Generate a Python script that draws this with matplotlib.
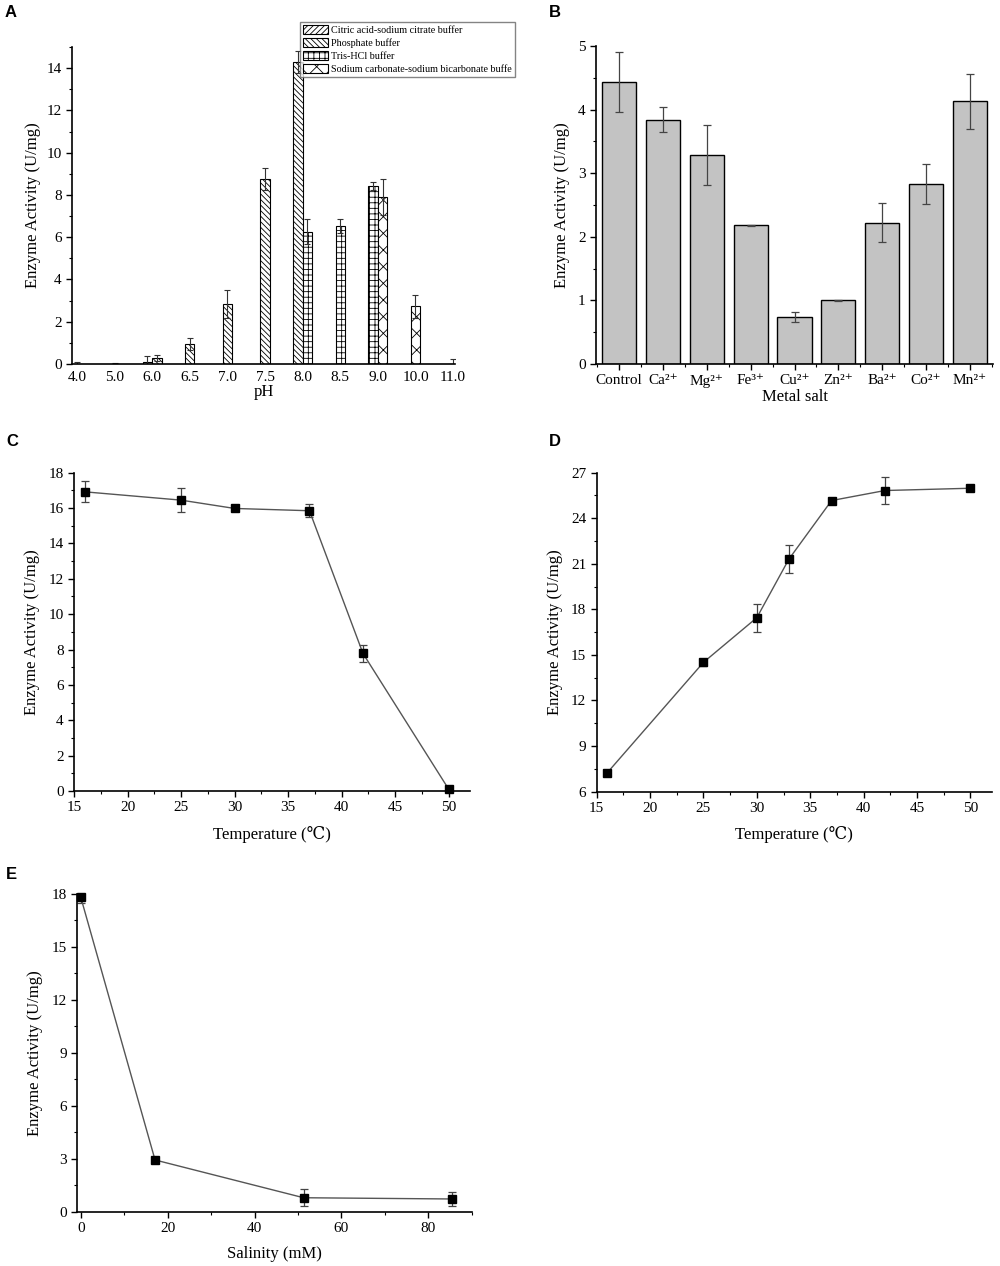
import numpy as np
import matplotlib
matplotlib.use("Agg")
import matplotlib.pyplot as plt
from matplotlib.ticker import MultipleLocator, FixedLocator
from matplotlib.patches import Patch

plt.rcParams['font.family'] = ['Liberation Serif', 'DejaVu Serif']
plt.rcParams['hatch.linewidth'] = 0.6

# ---- Panel A: pH ----
ph_labels = ["4.0", "5.0", "6.0", "6.5", "7.0", "7.5", "8.0", "8.5", "9.0", "10.0", "11.0"]
buffer_names = ["Citric acid-sodium citrate buffer", "Phosphate buffer",
                "Tris-HCl buffer", "Sodium carbonate-sodium bicarbonate buffe"]
buffer_hatch = ["//////", "\\\\\\\\\\\\", "+++", "xx"]
citric_ph = ["4.0", "5.0", "6.0"]
citric_val = [0.02, 0.01, 0.10]
citric_err = [0.06, 0.04, 0.26]
phosphate_ph = ["6.0", "6.5", "7.0", "7.5", "8.0"]
phosphate_val = [0.28, 0.94, 2.85, 8.75, 14.30]
phosphate_err = [0.15, 0.27, 0.66, 0.52, 0.53]
tris_ph = ["8.0", "8.5", "9.0"]
tris_val = [6.26, 6.54, 8.42]
tris_err = [0.60, 0.33, 0.17]
carb_ph = ["9.0", "10.0", "11.0"]
carb_val = [7.90, 2.72, 0.02]
carb_err = [0.86, 0.54, 0.23]

# ---- Panel B: metal salts ----
metals = ["Control", "Ca\u00b2\u207a", "Mg\u00b2\u207a", "Fe\u00b3\u207a", "Cu\u00b2\u207a",
          "Zn\u00b2\u207a", "Ba\u00b2\u207a", "Co\u00b2\u207a", "Mn\u00b2\u207a"]
metal_val = [4.43, 3.84, 3.29, 2.18, 0.74, 1.00, 2.22, 2.83, 4.13]
metal_err = [0.47, 0.20, 0.47, 0.005, 0.085, 0.008, 0.31, 0.31, 0.43]

# ---- Panel C: temperature (activity) ----
temp_c = [16, 25, 30, 37, 42, 50]
act_c = [16.92, 16.45, 15.98, 15.85, 7.78, 0.11]
err_c = [0.59, 0.67, 0.08, 0.36, 0.49, 0.05]

# ---- Panel D: temperature (stability) ----
temp_d = [16, 25, 30, 33, 37, 42, 50]
act_d = [7.25, 14.51, 17.45, 21.30, 25.16, 25.82, 25.97]
err_d = [0.10, 0.22, 0.91, 0.92, 0.08, 0.89, 0.08]

# ---- Panel E: salinity ----
salinity = [0, 17.1, 51.3, 85.5]
act_e = [17.81, 2.93, 0.79, 0.72]
err_e = [0.30, 0.10, 0.49, 0.40]

fig = plt.figure(figsize=(10, 12.66), dpi=100)

label_fs = 12
tick_fs = 11


def style_axes(ax):
    ax.spines['top'].set_visible(False)
    ax.spines['right'].set_visible(False)
    ax.tick_params(direction='out', labelsize=tick_fs, length=4, width=1)
    ax.tick_params(which='minor', direction='out', length=2.5, width=0.8)
    for s in ['left', 'bottom']:
        ax.spines[s].set_linewidth(1.2)


# Panel A
axA = fig.add_axes([0.072, 0.7125, 0.383, 0.2504])
style_axes(axA)
bw = 0.25
groups = {}
series = [(citric_ph, citric_val, citric_err), (phosphate_ph, phosphate_val, phosphate_err),
          (tris_ph, tris_val, tris_err), (carb_ph, carb_val, carb_err)]
for k, (phs, vals, errs) in enumerate(series):
    for p in phs:
        groups.setdefault(p, []).append(k)
for k, (phs, vals, errs) in enumerate(series):
    xs = []
    for p in phs:
        members = groups[p]
        n = len(members)
        j = members.index(k)
        xs.append(ph_labels.index(p) + (j - (n - 1) / 2) * bw)
    axA.bar(xs, vals, width=bw, color='white', edgecolor='black', linewidth=0.8,
            hatch=buffer_hatch[k])
    axA.errorbar(xs, vals, yerr=errs, fmt='none', ecolor='#333333', elinewidth=0.8,
                 capsize=2.5, capthick=0.8)
axA.set_xlim(-0.13, 10.05)
axA.set_ylim(0, 15)
axA.set_xticks(range(len(ph_labels)))
axA.set_xticklabels(ph_labels)
axA.tick_params(axis='x', length=0, pad=5)
axA.yaxis.set_major_locator(MultipleLocator(2))
axA.yaxis.set_minor_locator(MultipleLocator(1))
axA.set_xlabel("pH", fontsize=label_fs, labelpad=0)
axA.set_ylabel("Enzyme Activity (U/mg)", fontsize=label_fs, labelpad=4)
handles = [Patch(facecolor='white', edgecolor='black', hatch=h, linewidth=0.8) for h in buffer_hatch]
leg = fig.legend(handles, buffer_names, loc='upper left', bbox_to_anchor=(0.3, 0.983),
                 fontsize=7.3, frameon=True, fancybox=False, borderpad=0.3,
                 labelspacing=0.3, handlelength=2.5, handleheight=1.0, handletextpad=0.3,
                 borderaxespad=0)
leg.get_frame().set_edgecolor('#666666')
leg.get_frame().set_linewidth(1.0)

# Panel B
axB = fig.add_axes([0.596, 0.7125, 0.397, 0.2512])
style_axes(axB)
xb = np.arange(len(metals))
axB.bar(xb, metal_val, width=0.78, color='#c3c3c3', edgecolor='black', linewidth=1.0)
axB.errorbar(xb, metal_val, yerr=metal_err, fmt='none', ecolor='#444444', elinewidth=0.9,
             capsize=3, capthick=0.9)
axB.set_xlim(-0.53, 8.53)
axB.set_ylim(0, 5)
axB.set_xticks(xb)
axB.set_xticklabels(metals)
axB.xaxis.set_minor_locator(FixedLocator(np.arange(-0.5, 9.0, 1.0)))
axB.yaxis.set_major_locator(MultipleLocator(1))
axB.yaxis.set_minor_locator(MultipleLocator(0.5))
axB.set_xlabel("Metal salt", fontsize=label_fs, labelpad=1)
axB.set_ylabel("Enzyme Activity (U/mg)", fontsize=label_fs, labelpad=6)


def line_panel(rect, x, y, e, xlim, ylim, major_x, minor_x, major_y, minor_y, xlabel):
    ax = fig.add_axes(rect)
    style_axes(ax)
    ax.errorbar(x, y, yerr=e, fmt='none', ecolor='#444444', elinewidth=0.9,
                capsize=3, capthick=0.9, zorder=2)
    ax.plot(x, y, color='#555555', linewidth=1.0, marker='s', markersize=5.5,
            markerfacecolor='black', markeredgecolor='black', zorder=3, clip_on=False)
    ax.set_xlim(*xlim)
    ax.set_ylim(*ylim)
    ax.xaxis.set_major_locator(MultipleLocator(major_x))
    ax.xaxis.set_minor_locator(MultipleLocator(minor_x))
    ax.yaxis.set_major_locator(MultipleLocator(major_y))
    ax.yaxis.set_minor_locator(MultipleLocator(minor_y))
    ax.set_xlabel(xlabel, fontsize=label_fs, labelpad=8)
    ax.set_ylabel("Enzyme Activity (U/mg)", fontsize=label_fs, labelpad=6)
    return ax


axC = line_panel([0.074, 0.3752, 0.396, 0.2514], temp_c, act_c, err_c, (15, 52), (0, 18),
                 5, 2.5, 2, 1, "Temperature (\u2103)")
axD = line_panel([0.5967, 0.3747, 0.395, 0.2520], temp_d, act_d, err_d, (15, 52), (6, 27),
                 5, 2.5, 3, 1.5, "Temperature (\u2103)")
axE = line_panel([0.0773, 0.0429, 0.3944, 0.2510], salinity, act_e, err_e, (-0.8, 90), (0, 18),
                 20, 10, 3, 1.5, "Salinity (mM)")

# panel letters
for lbl, (px, py) in zip("ABCDE", [(5, 17), (549, 17), (6, 446), (549, 446), (6, 879)]):
    fig.text(px / 1000, 1 - py / 1266, lbl, fontsize=12, fontweight='bold',
             family=['Liberation Sans', 'DejaVu Sans'], va='baseline', ha='left')

fig.savefig("out.png", dpi=100)
